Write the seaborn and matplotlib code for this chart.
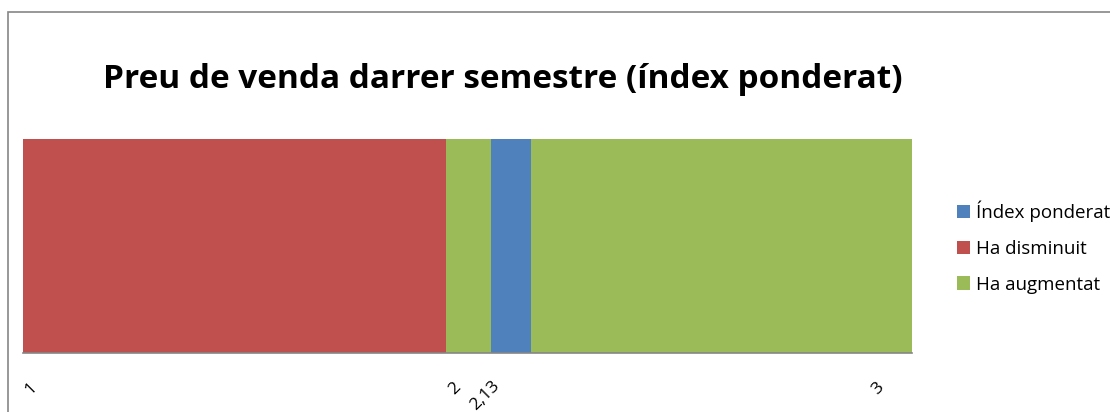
import matplotlib
matplotlib.use("Agg")
import matplotlib.pyplot as plt
import matplotlib.transforms as mtransforms
from matplotlib.patches import Patch, Rectangle
import seaborn as sns

# values
title = "Preu de venda darrer semestre (índex ponderat)"
series_names = ["Índex ponderat", "Ha disminuit", "Ha augmentat"]
series_colors = ["#4F81BD", "#C0504D", "#9BBB59"]
axis_min = 1.0
disminuit_end = 2.0
augmentat_end = 3.1
index_start = 2.105
index_end = 2.2
tick_values = [1, 2, 2.13, 3]
tick_labels = ["1", "2", "2,13", "3"]

sns.set_theme(style="white")
plt.rcParams["font.family"] = ["Open Sans", "DejaVu Sans"]
plt.rcParams["text.color"] = "black"
plt.rcParams["xtick.color"] = "black"

fig = plt.figure(figsize=(11.1, 4.12), dpi=100)
ax = fig.add_axes([23 / 1110, 1 - 353 / 412, (912 - 23) / 1110, (353 - 139) / 412])

blue, red, green = series_colors
cat = ["a"]
# layered bars from 0, later ones drawn on top; axis starts at 1 so 0..1 is hidden
layers = [
    (augmentat_end, green),
    (index_end, blue),
    (index_start, green),
    (disminuit_end, red),
]
for end, col in layers:
    sns.barplot(x=[end], y=cat, orient="h", color=col, width=1.0,
                saturation=1, ax=ax, linewidth=0)

ax.set_xlim(axis_min, augmentat_end)
ax.set_ylim(0.5, -0.5)
ax.set_yticks([])
ax.set_ylabel("")
ax.set_xlabel("")
ax.set_xticks(tick_values)
ax.set_xticklabels(tick_labels, rotation=45, ha="right", va="center",
                   rotation_mode="anchor", fontsize=12.5, color="black")
ax.tick_params(axis="x", length=0, pad=23)
for lab in ax.get_xticklabels():
    dx = -4 if lab.get_text() == "2,13" else 12
    dy = 2 if lab.get_text() == "2,13" else 0
    shift = mtransforms.ScaledTranslation(dx / 100, dy / 100, fig.dpi_scale_trans)
    lab.set_transform(lab.get_transform() + shift)
for s in ["top", "left", "right"]:
    ax.spines[s].set_visible(False)
ax.spines["bottom"].set_color("#868686")
ax.spines["bottom"].set_linewidth(1.2)

fig.text(503 / 1110, 1 - 80 / 412, title, ha="center", va="center",
         fontsize=24, fontweight="bold", color="black")

handles = [Patch(facecolor=c, edgecolor="none") for c in series_colors]
fig.legend(handles, series_names, loc="center left",
           bbox_to_anchor=(940 / 1110, 1 - 247 / 412), frameon=False,
           fontsize=13.5, handlelength=0.72, handleheight=0.72,
           labelspacing=0.95, handletextpad=0.3, labelcolor="black")

# chart border (right and bottom edges run off the picture)
fig.patches.append(Rectangle((8 / 1110, -0.1), 1.2, 1.1 - 12 / 412,
                             transform=fig.transFigure, fill=False,
                             edgecolor="#868686", linewidth=1.2))

fig.savefig("out.png", dpi=100)
